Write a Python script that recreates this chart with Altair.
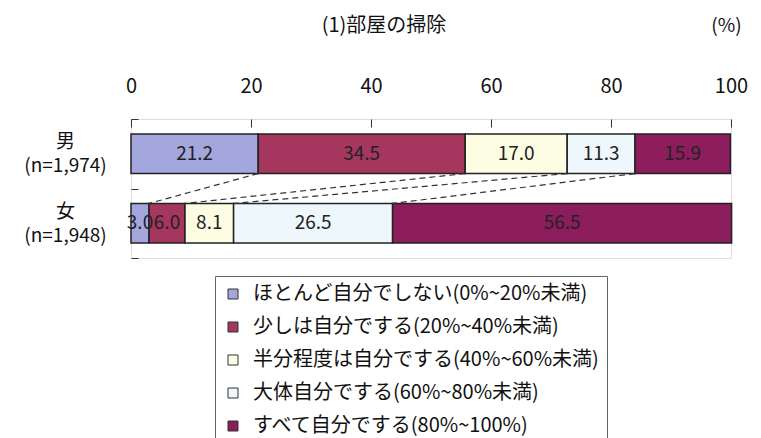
import altair as alt
import pandas as pd

# Survey: share of room cleaning done by oneself, by gender (%)
groups = ["男|(n=1,974)", "女|(n=1,948)"]
levels = [
    "ほとんど自分でしない(0%~20%未満)",
    "少しは自分でする(20%~40%未満)",
    "半分程度は自分でする(40%~60%未満)",
    "大体自分でする(60%~80%未満)",
    "すべて自分でする(80%~100%)",
]
male_values = [21.2, 34.5, 17.0, 11.3, 15.9]
female_values = [3.0, 6.0, 8.1, 26.5, 56.5]
colors = ["#a4a7de", "#a5375f", "#fcfde2", "#eef7fb", "#8b1d5d"]

FONT = "Noto Sans CJK JP"
BAR_BAND = 0.57

rows = []
for g, vals in zip(groups, [male_values, female_values]):
    start = 0.0
    for lvl, v in zip(levels, vals):
        rows.append({"group": g, "level": lvl, "value": v,
                     "start": start, "end": start + v, "mid": start + v / 2})
        start += v
df = pd.DataFrame(rows)

# dashed connectors between the boundaries of the two bars
def cumulative(vals):
    out, s = [], 0.0
    for v in vals[:-1]:
        s += v
        out.append(round(s, 1))
    return out

conn = pd.DataFrame({
    "x_m": cumulative(male_values),
    "x_f": cumulative(female_values),
})
conn["y_m"] = 0.5 + BAR_BAND / 2
conn["y_f"] = 1.5 - BAR_BAND / 2

x_scale = alt.Scale(domain=[0, 100], nice=False)

x_enc = alt.X(
    "start:Q",
    scale=x_scale,
    axis=alt.Axis(
        orient="top", values=[0, 20, 40, 60, 80, 100], format="d",
        offset=-8, tickSize=8, domain=False, grid=False, labelFlush=False,
        tickColor="#333", tickWidth=1,
        labelFont=FONT, labelFontSize=20, labelColor="#111", labelPadding=23,
        title="(%)", titleFont=FONT, titleFontSize=19, titleFontWeight="normal",
        titleColor="#111", titleX=595, titleY=-102, titleAngle=0,
        titleAlign="center", titleBaseline="middle",
    ),
)

y_enc = alt.Y(
    "group:N",
    sort=groups,
    scale=alt.Scale(paddingInner=0, paddingOuter=0),
    axis=alt.Axis(
        title=None, orient="left", offset=-7, tickSize=7, tickBand="extent",
        domain=False, tickColor="#333", tickWidth=1,
        labelExpr="split(datum.label, '|')",
        labelFont=FONT, labelFontSize=19, labelColor="#111",
        labelAlign="center", labelBaseline="middle", labelLineHeight=24,
        labelPadding=66, labelOffset=-12,
    ),
)

bars = alt.Chart(df).mark_bar(
    height=alt.RelativeBandSize(band=BAR_BAND), stroke="#222", strokeWidth=1.5
).encode(
    x=x_enc,
    x2="end:Q",
    y=y_enc,
    color=alt.Color(
        "level:N",
        scale=alt.Scale(domain=levels, range=colors),
        legend=alt.Legend(
            title=None, orient="none", legendX=84, legendY=157,
            direction="vertical", symbolType="square", symbolSize=100,
            symbolStrokeColor="#333", symbolStrokeWidth=1,
            labelFont=FONT, labelFontSize=20, labelColor="#111",
            labelLimit=500, labelOffset=10, rowPadding=13,
            padding=8, strokeColor="#666", fillColor="white",
        ),
    ),
)

labels = alt.Chart(df).mark_text(
    font=FONT, fontSize=19, color="#222", align="center", baseline="middle"
).encode(
    x=alt.X("mid:Q", scale=x_scale),
    y=alt.Y("group:N", sort=groups),
    text=alt.Text("value:Q", format=".1f"),
)

connectors = alt.Chart(conn).mark_rule(
    strokeDash=[6, 4], color="#333", strokeWidth=1.2
).encode(
    x=alt.X("x_m:Q", scale=x_scale),
    x2="x_f:Q",
    y=alt.Y("y_m:Q", scale=alt.Scale(domain=[0, 2], reverse=True), axis=None),
    y2="y_f:Q",
)

chart = alt.layer(alt.layer(bars, labels), connectors).resolve_scale(
    y="independent"
).properties(
    width=600,
    height=139,
    padding={"left": 131, "top": 119, "right": 30, "bottom": 180},
    autosize=alt.AutoSizeParams(type="none"),
    title=alt.TitleParams(
        "(1)部屋の掃除", font=FONT, fontSize=20, fontWeight="normal",
        color="#111", anchor="middle", dx=-47, dy=20, offset=0,
    ),
).configure_view(
    stroke="#333", strokeWidth=1.5
).configure(background="white")

chart.save("out.html", embed_options={"renderer": "svg", "actions": False})
